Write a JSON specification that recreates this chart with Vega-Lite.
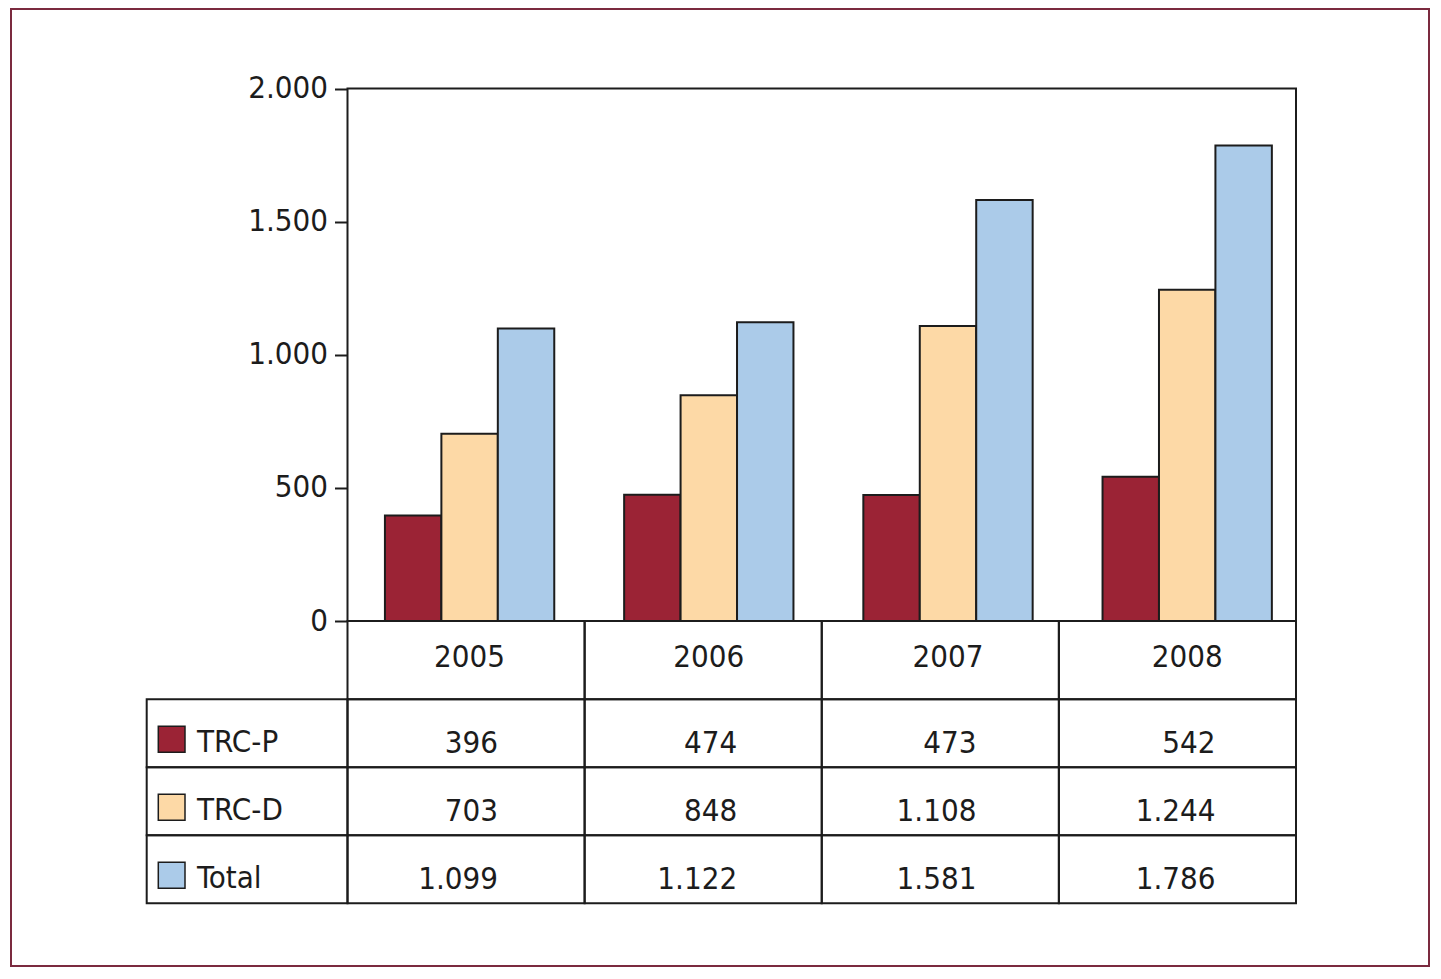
{
  "$schema": "https://vega.github.io/schema/vega-lite/v6.json",
  "width": 1418,
  "height": 957,
  "autosize": {"type": "none"},
  "padding": {"left": 11, "top": 9, "right": 12, "bottom": 13},
  "background": "white",
  "config": {
    "view": {"stroke": "#7b2a3f", "strokeWidth": 2},
    "font": "'Liberation Sans Narrow', 'DejaVu Sans Condensed', 'Roboto Condensed', 'Liberation Sans', sans-serif",
    "locale": {"number": {"decimal": ",", "thousands": ".", "grouping": [3], "currency": ["", " €"]}},
    "text": {"font": "'Liberation Sans Narrow', 'DejaVu Sans Condensed', 'Roboto Condensed', 'Liberation Sans', sans-serif", "fontSize": 31, "color": "#1c1c1c"}
  },
  "datasets": {
    "vals": [
      {"year": "2005", "series": "TRC-P", "value": 396},
      {"year": "2006", "series": "TRC-P", "value": 474},
      {"year": "2007", "series": "TRC-P", "value": 473},
      {"year": "2008", "series": "TRC-P", "value": 542},
      {"year": "2005", "series": "TRC-D", "value": 703},
      {"year": "2006", "series": "TRC-D", "value": 848},
      {"year": "2007", "series": "TRC-D", "value": 1108},
      {"year": "2008", "series": "TRC-D", "value": 1244},
      {"year": "2005", "series": "Total", "value": 1099},
      {"year": "2006", "series": "Total", "value": 1122},
      {"year": "2007", "series": "Total", "value": 1581},
      {"year": "2008", "series": "Total", "value": 1786}
    ],
    "years": [{"year": "2005"}, {"year": "2006"}, {"year": "2007"}, {"year": "2008"}],
    "series": [{"series": "TRC-P"}, {"series": "TRC-D"}, {"series": "Total"}]
  },
  "resolve": {
    "scale": {"x": "independent", "y": "independent", "xOffset": "independent"},
    "axis": {"x": "independent", "y": "independent"}
  },
  "layer": [
    {
      "data": {"name": "vals"},
      "mark": {"type": "bar", "stroke": "#1c1c1c", "strokeWidth": 2},
      "encoding": {
        "x": {"field": "year", "type": "nominal", "scale": {"range": [339.0, 1295.8], "paddingInner": 0, "paddingOuter": 0}, "axis": null},
        "xOffset": {"field": "series", "type": "nominal", "sort": ["TRC-P", "TRC-D", "Total"], "scale": {"paddingInner": 0, "paddingOuter": 0.619}},
        "y": {
          "field": "value", "type": "quantitative",
          "scale": {"domain": [0, 2000], "range": [612, 79.5], "nice": false},
          "axis": {
            "orient": "left", "offset": -336.5, "values": [0, 500, 1000, 1500, 2000], "format": ",d",
            "title": null, "grid": false, "domain": false,
            "ticks": true, "tickSize": 13, "tickWidth": 2, "tickColor": "#1c1c1c",
            "labelFont": "'Liberation Sans Narrow', 'DejaVu Sans Condensed', 'Roboto Condensed', 'Liberation Sans', sans-serif",
            "labelFontSize": 31, "labelColor": "#1c1c1c",
            "labelPadding": 7, "labelFlush": false, "labelOverlap": false
          }
        },
        "color": {"field": "series", "type": "nominal", "scale": {"domain": ["TRC-P", "TRC-D", "Total"], "range": ["#9b2335", "#fdd9a6", "#abcbe9"]}, "legend": null}
      }
    },
    {
      "data": {"values": [{"frame": "chart"}]},
      "mark": {"type": "rect", "fill": "transparent", "stroke": "#1c1c1c", "strokeWidth": 2},
      "encoding": {
        "x": {"datum": 0, "type": "quantitative", "scale": {"domain": [0, 1], "range": [336.5, 1285]}, "axis": null},
        "x2": {"datum": 1},
        "y": {"datum": 0, "type": "quantitative", "scale": {"domain": [0, 2000], "range": [612, 79.5], "nice": false}, "axis": null},
        "y2": {"datum": 2000}
      }
    },
    {
      "data": {"name": "years"},
      "mark": {"type": "rect", "fill": "transparent", "stroke": "#1c1c1c", "strokeWidth": 2},
      "encoding": {
        "x": {"field": "year", "type": "nominal", "scale": {"range": [336.5, 1285], "paddingInner": 0, "paddingOuter": 0}, "axis": null},
        "y": {"datum": "header", "type": "nominal", "scale": {"domain": ["header"], "range": [612, 690.3], "paddingInner": 0, "paddingOuter": 0}, "axis": null}
      }
    },
    {
      "data": {"name": "years"},
      "mark": {"type": "text", "align": "center", "baseline": "alphabetic", "dy": 7},
      "encoding": {
        "x": {"field": "year", "type": "nominal", "scale": {"range": [339.0, 1295.8], "paddingInner": 0, "paddingOuter": 0}, "axis": null},
        "y": {"datum": "header", "type": "nominal", "scale": {"domain": ["header"], "range": [612, 690.3], "paddingInner": 0, "paddingOuter": 0}, "axis": null},
        "text": {"field": "year", "type": "nominal"}
      }
    },
    {
      "data": {"name": "vals"},
      "mark": {"type": "rect", "fill": "transparent", "stroke": "#1c1c1c", "strokeWidth": 2},
      "encoding": {
        "x": {"field": "year", "type": "nominal", "scale": {"range": [336.5, 1285], "paddingInner": 0, "paddingOuter": 0}, "axis": null},
        "y": {"field": "series", "type": "nominal", "sort": ["TRC-P", "TRC-D", "Total"], "scale": {"range": [690.3, 894.3], "paddingInner": 0, "paddingOuter": 0}, "axis": null}
      }
    },
    {
      "data": {"name": "vals"},
      "mark": {"type": "text", "align": "right", "baseline": "alphabetic", "dx": 28.4, "dy": 19.5},
      "encoding": {
        "x": {"field": "year", "type": "nominal", "scale": {"range": [339.0, 1295.8], "paddingInner": 0, "paddingOuter": 0}, "axis": null},
        "y": {"field": "series", "type": "nominal", "sort": ["TRC-P", "TRC-D", "Total"], "scale": {"range": [690.3, 894.3], "paddingInner": 0, "paddingOuter": 0}, "axis": null},
        "text": {"field": "value", "type": "quantitative", "format": ",d"}
      }
    },
    {
      "data": {"name": "series"},
      "mark": {"type": "rect", "fill": "transparent", "stroke": "#1c1c1c", "strokeWidth": 2},
      "encoding": {
        "x": {"datum": 0, "type": "quantitative", "scale": {"domain": [0, 1], "range": [135.7, 336.5]}, "axis": null},
        "x2": {"datum": 1},
        "y": {"field": "series", "type": "nominal", "sort": ["TRC-P", "TRC-D", "Total"], "scale": {"range": [690.3, 894.3], "paddingInner": 0, "paddingOuter": 0}, "axis": null}
      }
    },
    {
      "data": {"name": "series"},
      "mark": {"type": "rect", "stroke": "#1c1c1c", "strokeWidth": 1.5},
      "encoding": {
        "x": {"datum": 0, "type": "quantitative", "scale": {"domain": [0, 1], "range": [147.3, 174]}, "axis": null},
        "x2": {"datum": 1},
        "y": {"field": "series", "type": "nominal", "sort": ["TRC-P", "TRC-D", "Total"], "scale": {"range": [696.3, 900.3], "paddingInner": 0.618, "paddingOuter": 0.309}, "axis": null},
        "color": {"field": "series", "type": "nominal", "scale": {"domain": ["TRC-P", "TRC-D", "Total"], "range": ["#9b2335", "#fdd9a6", "#abcbe9"]}, "legend": null}
      }
    },
    {
      "data": {"name": "series"},
      "mark": {"type": "text", "align": "left", "baseline": "alphabetic", "dx": 50.3, "dy": 19},
      "encoding": {
        "x": {"datum": 0, "type": "quantitative", "scale": {"domain": [0, 1], "range": [135.7, 336.5]}, "axis": null},
        "y": {"field": "series", "type": "nominal", "sort": ["TRC-P", "TRC-D", "Total"], "scale": {"range": [690.3, 894.3], "paddingInner": 0, "paddingOuter": 0}, "axis": null},
        "text": {"field": "series", "type": "nominal"}
      }
    }
  ]
}
